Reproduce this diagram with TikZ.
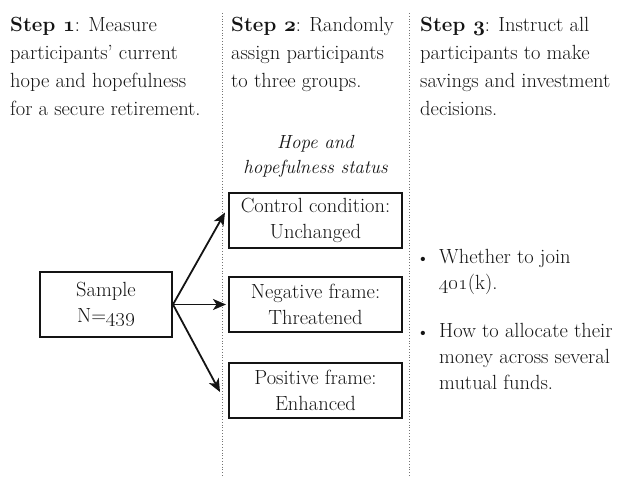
\documentclass[tikz,border=0pt]{standalone}
\usetikzlibrary{arrows.meta,positioning}

\colorlet{inkcol}{black!92}
\colorlet{rulecol}{black!55}

\newcommand{\boldold}[1]{{\usefont{OML}{cmm}{b}{it}#1}}

\tikzset{
  body/.style={font=\fontsize{20.5}{26}\selectfont, text=inkcol, inner sep=0pt},
  head/.style={body, font=\fontsize{20.5}{27.7}\selectfont, align=left, anchor=base west},
  groupbox/.style={body, draw=inkcol, line width=2pt, align=center, minimum width=173pt, minimum height=55pt},
  divider/.style={rulecol, line width=0.8pt, dotted},
  branch/.style={inkcol, line width=1.8pt, -{Stealth[length=13pt,width=11pt,inset=3.5pt]}},
  dot/.style={body, font=\fontsize{19}{19}\selectfont, anchor=base},
}

\begin{document}
\begin{tikzpicture}[x=1pt,y=-1pt]
  \useasboundingbox (0,0) rectangle (631,478);

  % column rules
  \coordinate (rule1top) at (222,13);
  \coordinate (rule1bot) at (222,478);
  \coordinate (rule2top) at (409,13);
  \coordinate (rule2bot) at (409,478);
  \draw[divider] (rule1top) -- (rule1bot);
  \draw[divider] (rule2top) -- (rule2bot);

  % step headings (anchored at the last line)
  \node[head] (step1) at (10,115.1) {\textbf{Step \boldold{1}}: Measure\\participants' current\\hope and hopefulness\\for a secure retirement.};
  \node[head] (step2) at (231,87.4) {\textbf{Step \boldold{2}}: Randomly\\assign participants\\to three groups.};
  \node[head] (step3) at (420,115.1) {\textbf{Step \boldold{3}}: Instruct all\\participants to make\\savings and investment\\decisions.};

  % sample and groups
  \node[groupbox, minimum width=132pt, minimum height=65pt] (sample) at (106,304.5) {Sample\\N=\oldstylenums{439}};
  \node[groupbox] (ctrl) at (315.5,220.5) {Control condition:\\Unchanged};
  \node[groupbox] (neg) at (315.5,304.5) {Negative frame:\\Threatened};
  \node[groupbox] (pos) at (315.5,390) {Positive frame:\\Enhanced};
  \node[body, font=\fontsize{19}{25}\selectfont\itshape, align=center, above=14pt of ctrl] (status) {Hope and\\hopefulness status};

  \draw[branch] (sample.east) -- ([xshift=-3pt,yshift=8pt]ctrl.west);
  \draw[branch] (sample.east) -- ([xshift=-2pt]neg.west);
  \draw[branch] (sample.east) -- ([xshift=-8pt,yshift=-2pt]pos.west);

  % decisions
  \node[dot] (bul1) at (423,264) {\textbullet};
  \node[body, align=left, anchor=base west] (opt1) at (439,289) {Whether to join\\\oldstylenums{401}(k).};
  \node[dot] (bul2) at (423,338) {\textbullet};
  \node[body, align=left, anchor=base west] (opt2) at (439,389) {How to allocate their\\money across several\\mutual funds.};
\end{tikzpicture}
\end{document}
